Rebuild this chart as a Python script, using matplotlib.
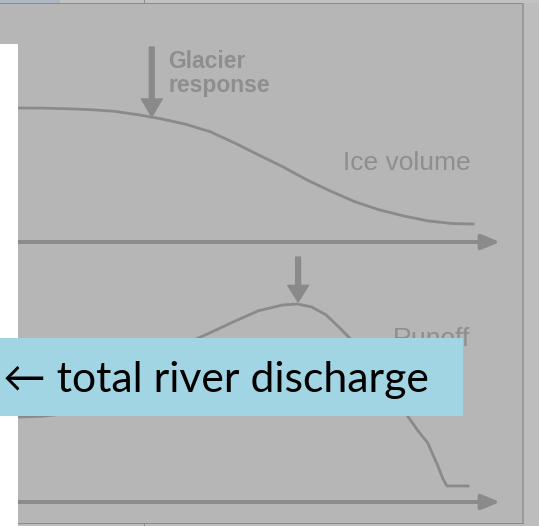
import matplotlib
matplotlib.use("Agg")
import matplotlib.pyplot as plt
from matplotlib.patches import Rectangle

# time axis in arbitrary units (0..100), values normalised
ice_t = [0, 5, 10, 15, 20, 25, 30, 35, 40, 45, 50, 55, 60, 65, 70, 75, 80, 85, 90, 94.4]
ice_v = [1.0, 0.999, 0.995, 0.988, 0.976, 0.950, 0.918, 0.878, 0.823, 0.740, 0.650, 0.562,
	0.464, 0.378, 0.300, 0.240, 0.195, 0.158, 0.138, 0.134]

runoff_t = [0, 5, 10, 15, 20, 25, 30, 35, 40, 45, 50, 55, 58, 61, 64, 67, 70, 73, 76, 79,
	81, 83, 85, 87, 88.2, 89, 93.4]
runoff_v = [0.429, 0.433, 0.445, 0.48, 0.55, 0.64, 0.73, 0.80, 0.855, 0.912, 0.966, 0.995,
	1.0, 0.985, 0.945, 0.875, 0.80, 0.71, 0.62, 0.51, 0.43, 0.36, 0.30, 0.19, 0.116, 0.081, 0.081]

glacier_response_t = 27.9
peak_water_t = 58.2

W, H = 539, 526
BG = '#b6b6b6'
LINE = '#8a8a8a'
TXT = '#8e8e8e'

fig = plt.figure(figsize=(W/100, H/100), dpi=100)
fig.patch.set_facecolor(BG)

def px_axes(x0, y0, x1, y1):
	"""axes placed by pixel box (top-left origin)"""
	ax = fig.add_axes([x0/W, 1-y1/H, (x1-x0)/W, (y1-y0)/H])
	ax.set_facecolor('none')
	ax.axis('off')
	return ax

def axis_arrow(ax):
	ax.annotate('', xy=(100, 0), xytext=(0, 0),
		arrowprops=dict(arrowstyle='-|>,head_length=1.1,head_width=0.45', color=LINE, lw=2.8, shrinkA=0, shrinkB=0))

# upper panel: ice volume
ax1 = px_axes(17, 30, 500, 242)
ax1.set_xlim(0, 100)
ax1.set_ylim(0, 212/134)
ax1.plot(ice_t, ice_v, color=LINE, lw=2.0, solid_joinstyle='round')
axis_arrow(ax1)
ax1.annotate('', xy=(glacier_response_t, 0.933), xytext=(glacier_response_t, 1.455),
	arrowprops=dict(arrowstyle='simple,head_length=1.3,head_width=1.5,tail_width=0.35', color=LINE, shrinkA=0, shrinkB=0))
ax1.text(31.3, 1.43, 'Glacier\nresponse', color=TXT, fontsize=16.5, family='Liberation Sans',
	fontweight='bold', va='top', ha='left', linespacing=1.05)
ax1.text(67.5, 0.59, 'Ice volume', color=TXT, fontsize=19, family='Liberation Sans', va='center', ha='left')

# lower panel: runoff
ax2 = px_axes(17, 250, 500, 502)
ax2.set_xlim(0, 100)
ax2.set_ylim(0, 252/198)
ax2.plot(runoff_t, runoff_v, color=LINE, lw=2.0, solid_joinstyle='round')
axis_arrow(ax2)
ax2.annotate('', xy=(peak_water_t, 1.01), xytext=(peak_water_t, 1.237),
	arrowprops=dict(arrowstyle='simple,head_length=1.2,head_width=1.5,tail_width=0.35', color=LINE, shrinkA=0, shrinkB=0))
ax2.text(47.5, 0.732, 'Peak water', color=TXT, fontsize=19, family='Liberation Sans', va='baseline', ha='left')
ax2.text(77.8, 0.788, 'Runoff', color=TXT, fontsize=19, family='Liberation Sans', va='baseline', ha='left')

# window frame bits
def box(x0, y0, x1, y1, c, z=5):
	fig.add_artist(Rectangle((x0/W, 1-y1/H), (x1-x0)/W, (y1-y0)/H, transform=fig.transFigure,
		facecolor=c, edgecolor='none', zorder=z))

box(0, 0, W, 2.7, '#c2c2c2')
box(0, 0, 60, 2.7, '#aeb8c4')
box(0, 2.7, W, 4, '#8c8c8c')
box(143.5, 0, 145, 3, '#8c8c8c')
box(522, 3, 523.5, 524, '#9a9a9a')
box(523.5, 3, W, H, '#bdbdbd')
box(17, 522.5, 523.5, 524, '#8c8c8c')
box(17, 524, W, H, '#bdbdbd')
box(143.5, 524, 145, H, '#8c8c8c')

# white margin and caption box
box(0, 44, 17.5, H, 'white', z=10)
box(0, 338, 463, 415.5, '#a2d5e3', z=10)
fig.text(3/W, 1-380/H, '\u2190 total river discharge', fontsize=30.8, color='black',
	family=['Lato', 'DejaVu Sans'], va='center', ha='left', zorder=11)

plt.savefig('out.png', dpi=100, facecolor=fig.get_facecolor())
